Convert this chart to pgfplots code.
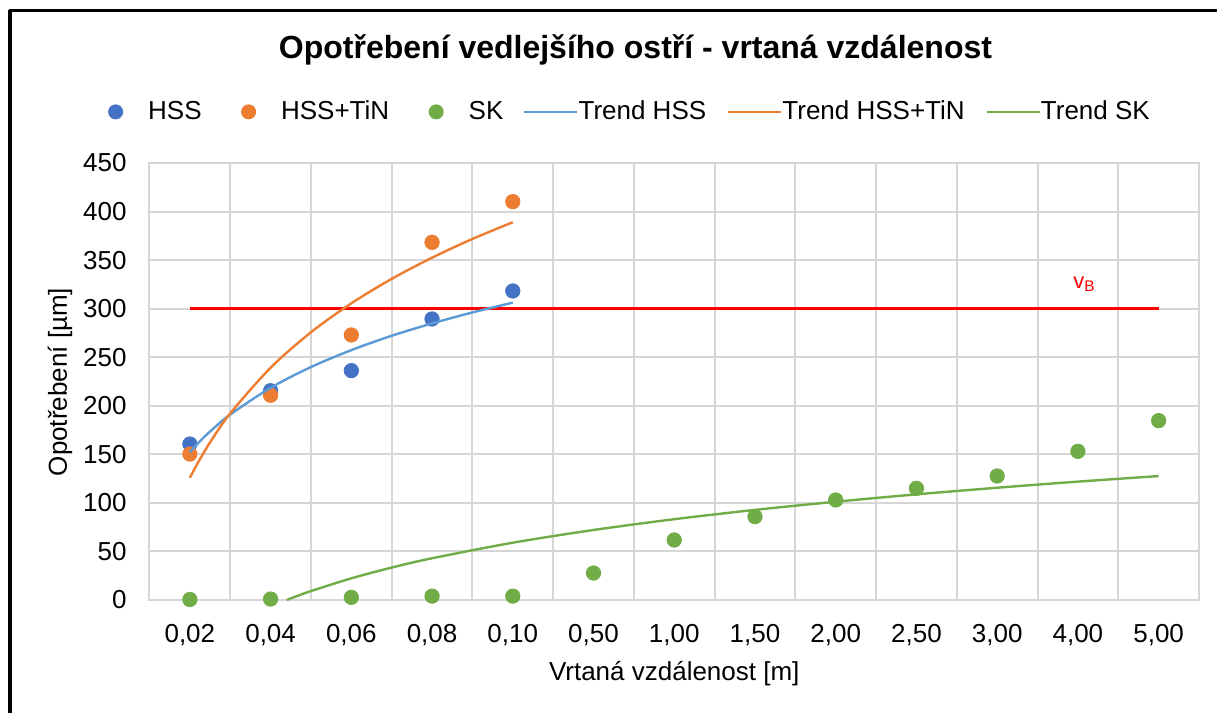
\documentclass[border=0pt]{standalone}
\usepackage{fontspec}
\setmainfont{Liberation Sans}
\usepackage{pgfplots}
\pgfplotsset{compat=1.18}
\definecolor{cHSS}{HTML}{4472C4}
\definecolor{cTiN}{HTML}{ED7D31}
\definecolor{cSK}{HTML}{70AD47}
\definecolor{tHSS}{HTML}{5B9BD5}
\definecolor{gridc}{HTML}{D6D6D6}
\begin{document}
\begin{tikzpicture}[x=0.5pt,y=0.5pt]
\useasboundingbox (0,0) rectangle (1217,713);
\fill[white] (0,0) rectangle (1217,713);
\draw[black, line width=2pt] (10,0) -- (10,703);
\draw[black, line width=1.5pt] (9,702) -- (1217,702);
\node[font=\bfseries\fontsize{16}{19}\selectfont] at (635.5,663) {Opotřebení vedlejšího ostří - vrtaná vzdálenost};
\begin{axis}[
  at={(74.75pt,56.5pt)}, anchor=south west, scale only axis,
  width=524.75pt, height=218.5pt,
  clip mode=individual,
  xmin=0.5, xmax=13.5, ymin=0, ymax=450,
  xtick={1,2,3,4,5,6,7,8,9,10,11,12,13},
  xticklabels={{0,02},{0,04},{0,06},{0,08},{0,10},{0,50},{1,00},{1,50},{2,00},{2,50},{3,00},{4,00},{5,00}},
  minor xtick={0.5,1.5,2.5,3.5,4.5,5.5,6.5,7.5,8.5,9.5,10.5,11.5,12.5,13.5},
  ytick={0,50,100,150,200,250,300,350,400,450},
  major tick length=0pt, minor tick length=0pt,
  xmajorgrids=false, xminorgrids=true, ymajorgrids=true,
  grid style={gridc, line width=1pt},
  minor grid style={gridc, line width=1pt},
  axis line style={gridc, line width=1pt},
  /pgf/number format/assume math mode=true,
  tick label style={font=\fontsize{13}{15}\selectfont},
  yticklabel style={anchor=east, inner sep=0pt, xshift=-11.25pt},
  xticklabel style={anchor=north, inner sep=0pt, yshift=-12pt},
  legend style={at={(axis description cs:-0.0455,1.117)}, anchor=west, draw=none, fill=none,
    legend columns=6, column sep=0pt,
    nodes={inner sep=0pt, font=\fontsize{13}{15}\selectfont},
    cells={anchor=west}},
]
\addplot[red, line width=1.35pt, forget plot] coordinates {(1,300) (13,300)};
\addplot[only marks, mark=*, mark size=3.6pt, draw=cHSS, fill=cHSS, mark options={draw=cHSS, fill=cHSS},
  legend image code/.code={\path[draw=none,fill=none] (-3.75pt,0pt) -- (16.25pt,0pt); \fill[cHSS, draw=none] (0pt,0pt) circle (3.75pt);}]
  coordinates {(1,160.6) (2,215.5) (3,236.2) (4,289.4) (5,318.2)};
\addlegendentry{HSS}
\addplot[only marks, mark=*, mark size=3.6pt, draw=cTiN, fill=cTiN, mark options={draw=cTiN, fill=cTiN},
  legend image code/.code={\path[draw=none,fill=none] (-23.5pt,0pt) -- (16.25pt,0pt); \fill[cTiN, draw=none] (0pt,0pt) circle (3.75pt);}]
  coordinates {(1,150.3) (2,210.8) (3,272.9) (4,368.3) (5,410.2)};
\addlegendentry{HSS+TiN}
\addplot[only marks, mark=*, mark size=3.6pt, draw=cSK, fill=cSK, mark options={draw=cSK, fill=cSK},
  legend image code/.code={\path[draw=none,fill=none] (-23.5pt,0pt) -- (16.25pt,0pt); \fill[cSK, draw=none] (0pt,0pt) circle (3.75pt);}]
  coordinates {(1,0.5) (2,1) (3,2.7) (4,4) (5,4) (6,27.8) (7,61.8) (8,85.8) (9,103) (10,115) (11,127.7) (12,153.1) (13,184.7)};
\addlegendentry{SK}
\addplot[tHSS, line width=1.2pt, smooth,
  legend image code/.code={\path[draw=none] (-10.5pt,0pt) -- (27pt,0pt); \draw[tHSS, line width=1.2pt] (0pt,0pt) -- (26.5pt,0pt);}]
  coordinates {(1,152.1) (1.1,161.3) (1.25,173.5) (1.5,191.0) (2,218.5) (2.5,239.9) (3,257.3) (3.5,272.1) (4,284.8) (4.5,296.1) (5,306.2)};
\addlegendentry{Trend HSS}
\addplot[cTiN, line width=1.2pt, smooth,
  legend image code/.code={\path[draw=none] (-11pt,0pt) -- (27pt,0pt); \draw[cTiN, line width=1.2pt] (0pt,0pt) -- (26.5pt,0pt);}]
  coordinates {(1,125.9) (1.1,141.4) (1.25,162.3) (1.5,192.2) (2,239.2) (2.5,275.7) (3,305.5) (3.5,330.7) (4,352.5) (4.5,371.8) (5,389.0)};
\addlegendentry{Trend HSS+TiN}
\addplot[cSK, line width=1.2pt, smooth,
  legend image code/.code={\path[draw=none] (-11pt,0pt) -- (27pt,0pt); \draw[cSK, line width=1.2pt] (0pt,0pt) -- (26.5pt,0pt);}]
  coordinates {(2.2,0) (2.3,3.2) (2.5,9.2) (3,22.3) (3.5,33.4) (4,43.0) (5,59.0) (6,72.1) (7,83.2) (8,92.8) (9,101.2) (10,108.8) (11,115.6) (12,121.9) (13,127.6)};
\addlegendentry{Trend SK}
\node[red, anchor=base west, inner sep=0pt, font=\fontsize{11}{12}\selectfont] at (axis cs:11.94,321) {v\textsubscript{B}};
\node[font=\fontsize{13}{15}\selectfont] at (axis description cs:0.5,-0.168) {Vrtaná vzdálenost [m]};
\node[rotate=90, font=\fontsize{13}{15}\selectfont] at (axis description cs:-0.0853,0.4989) {Opotřebení [µm]};
\end{axis}
\end{tikzpicture}
\end{document}
